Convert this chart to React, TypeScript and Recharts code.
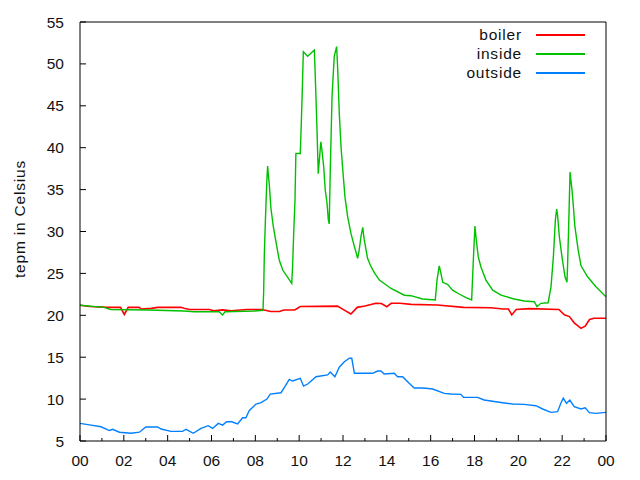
import { LineChart, Line, XAxis, YAxis, Legend } from "recharts";

const FONT = "'Liberation Sans', Arial, sans-serif";
const FONT_SIZE = 15.5;
const WORD_SPACING = 0.8; // gd renders words a little looser than the browser

const COLORS: Record<string, string> = {
  boiler: "#ff0000",
  inside: "#00c000",
  outside: "#0080ff",
};

// hours of the day, labelled every 2h, minor tick every hour
const hourTicks = Array.from({ length: 25 }, (_, i) => i);
const tempTicks = [5, 10, 15, 20, 25, 30, 35, 40, 45, 50, 55];

const boilerHours = [
  0, 0.45, 1.25, 1.85, 2.02, 2.2, 2.7, 2.8, 3.25, 3.55,
  4.6, 4.75, 5.0, 5.9, 6.1, 6.5, 6.9, 7.6, 8.3, 8.7,
  9.1, 9.3, 9.8, 10.05, 11.75, 12.0, 12.36, 12.65, 13.0, 13.5,
  13.75, 14.0, 14.2, 14.6, 15.1, 16.3, 17.5, 18.75, 19.3, 19.55,
  19.7, 19.9, 20.5, 21.85, 22.1, 22.33, 22.55, 22.86, 23.05, 23.25,
  23.45, 24,
];
const boilerTemps = [
  21.2, 21.05, 20.95, 20.95, 20.1, 20.95, 20.95, 20.75, 20.83, 20.95,
  20.95, 20.85, 20.7, 20.7, 20.55, 20.65, 20.55, 20.7, 20.7, 20.45,
  20.45, 20.63, 20.63, 21.05, 21.1, 20.7, 20.15, 20.95, 21.1, 21.43,
  21.4, 21.03, 21.43, 21.43, 21.3, 21.23, 20.95, 20.9, 20.75, 20.75,
  20.05, 20.7, 20.8, 20.7, 20.05, 19.85, 19.1, 18.45, 18.7, 19.5,
  19.65, 19.65,
];

const insideHours = [
  0, 1.1, 1.4, 3.1, 4.75, 5.2, 6.35, 6.5, 6.62, 7.95,
  8.35, 8.38, 8.41, 8.46, 8.52, 8.56, 8.59, 8.64, 8.71, 8.82,
  8.94, 9.09, 9.25, 9.66, 9.7, 9.75, 9.81, 9.85, 10.05, 10.08,
  10.13, 10.19, 10.39, 10.69, 10.72, 10.81, 10.87, 10.92, 10.99, 11.04,
  11.12, 11.19, 11.27, 11.33, 11.37, 11.42, 11.5, 11.6, 11.71, 11.76,
  11.83, 11.91, 11.98, 12.09, 12.21, 12.36, 12.52, 12.67, 12.74, 12.82,
  12.9, 12.97, 13.12, 13.28, 13.45, 13.66, 14.19, 14.8, 15.1, 15.63,
  16.21, 16.29, 16.39, 16.47, 16.55, 16.77, 17.0, 17.3, 17.61, 17.87,
  17.94, 18.02, 18.07, 18.17, 18.29, 18.52, 18.83, 19.21, 19.81, 20.27,
  20.73, 20.85, 21.03, 21.36, 21.49, 21.6, 21.69, 21.75, 21.79, 21.87,
  21.99, 22.13, 22.22, 22.25, 22.3, 22.36, 22.4, 22.45, 22.5, 22.58,
  22.73, 22.86, 23.16, 23.54, 24,
];
const insideTemps = [
  21.2, 20.95, 20.7, 20.63, 20.51, 20.43, 20.43, 20.04, 20.43, 20.51,
  20.6, 22.8, 27.2, 31.4, 35.75, 37.8, 36.9, 35.5, 32.8, 30.6,
  28.8, 26.6, 25.4, 23.8, 25.8, 29.8, 33.8, 39.3, 39.3, 41.5,
  45.7, 51.45, 50.9, 51.66, 49.67, 42.5, 36.9, 38.5, 40.7, 39.7,
  37.7, 34.95, 33.4, 31.4, 30.9, 37.3, 46.1, 50.9, 52.06, 49.27,
  44.1, 40.1, 37.7, 34.1, 31.8, 29.8, 28.2, 26.8, 27.8, 29.4,
  30.5, 29.0, 26.8, 25.8, 25.0, 24.2, 23.2, 22.4, 22.34, 21.95,
  21.83, 24.2, 25.9, 25.0, 23.94, 23.7, 23.0, 22.54, 22.1, 21.83,
  26.2, 30.66, 29.3, 27.0, 25.8, 24.2, 23.0, 22.4, 21.95, 21.7,
  21.62, 21.03, 21.43, 21.5, 23.4, 27.0, 31.4, 32.66, 31.97, 29.4,
  27.0, 24.6, 23.94, 26.2, 31.0, 37.1, 36.1, 34.95, 33.4, 30.6,
  27.8, 25.9, 24.6, 23.4, 22.2,
];

const outsideHours = [
  0, 0.5, 0.96, 1.34, 1.49, 1.8, 2.33, 2.71, 3.0, 3.54,
  3.7, 4.15, 4.68, 4.84, 5.17, 5.52, 5.85, 6.05, 6.31, 6.51,
  6.69, 6.92, 7.19, 7.42, 7.57, 7.72, 8.03, 8.26, 8.53, 8.68,
  9.17, 9.35, 9.55, 9.7, 10.05, 10.2, 10.39, 10.77, 11.3, 11.42,
  11.63, 11.83, 12.06, 12.29, 12.4, 12.52, 13.35, 13.58, 13.73, 13.88,
  14.34, 14.49, 14.72, 15.02, 15.25, 15.55, 15.78, 16.09, 16.62, 16.93,
  17.38, 17.5, 18.14, 18.44, 18.75, 19.21, 19.74, 20.27, 20.8, 21.11,
  21.49, 21.79, 21.94, 22.05, 22.2, 22.35, 22.55, 22.86, 23.05, 23.24,
  23.54, 24,
];
const outsideTemps = [
  7.1, 6.9, 6.7, 6.25, 6.4, 6.05, 5.92, 6.05, 6.67, 6.67,
  6.43, 6.15, 6.15, 6.4, 5.92, 6.5, 6.83, 6.5, 7.1, 6.9,
  7.3, 7.3, 7.03, 7.78, 7.78, 8.62, 9.41, 9.57, 10.0, 10.6,
  10.76, 11.48, 12.36, 12.16, 12.48, 11.56, 11.8, 12.67, 12.88, 13.23,
  12.67, 13.8, 14.46, 14.87, 14.87, 13.08, 13.08, 13.35, 13.35, 13.0,
  13.08, 12.67, 12.67, 11.88, 11.32, 11.32, 11.29, 11.2, 10.68, 10.61,
  10.57, 10.21, 10.21, 9.89, 9.77, 9.6, 9.41, 9.37, 9.21, 8.82,
  8.42, 8.5, 9.5, 10.1, 9.5, 9.89, 9.1, 8.82, 8.97, 8.38,
  8.3, 8.42,
];

const toPoints = (hours: number[], temps: number[]) =>
  hours.map((t, i) => ({ t, v: temps[i] }));

const boilerData = toPoints(boilerHours, boilerTemps);
const insideData = toPoints(insideHours, insideTemps);
const outsideData = toPoints(outsideHours, outsideTemps);

const hourLabel = (h: number) => String(h % 24).padStart(2, "0");

// gnuplot style: ticks point into the plot, minor x ticks every odd hour
const BottomTick = ({ x, y, payload }: any) => {
  const major = payload.value % 2 === 0;
  return (
    <g>
      <line x1={x} y1={y} x2={x} y2={y - (major ? 6 : 3)} stroke="#000" />
      {major && (
        <text x={x} y={y + 25} textAnchor="middle" fill="#111" fontFamily={FONT} fontSize={FONT_SIZE}>
          {hourLabel(payload.value)}
        </text>
      )}
    </g>
  );
};

const TopTick = ({ x, y, payload }: any) => {
  const major = payload.value % 2 === 0;
  return <line x1={x} y1={y} x2={x} y2={y + (major ? 6 : 3)} stroke="#000" />;
};

const LeftTick = ({ x, y, payload }: any) => (
  <g>
    <line x1={x} y1={y} x2={x + 6} y2={y} stroke="#000" />
    <text x={x - 16} y={y} dy="0.36em" textAnchor="end" fill="#111" fontFamily={FONT} fontSize={FONT_SIZE}>
      {payload.value}
    </text>
  </g>
);

const RightTick = ({ x, y }: any) => <line x1={x} y1={y} x2={x - 6} y2={y} stroke="#000" />;

const renderLegend = ({ payload }: any) => (
  <div style={{ fontFamily: FONT, fontSize: FONT_SIZE, color: "#111", letterSpacing: WORD_SPACING }}>
    {(payload || []).map((p: any) => (
      <div
        key={p.value}
        style={{ display: "flex", alignItems: "center", justifyContent: "flex-end", height: 19 }}
      >
        <span>{p.value}</span>
        <span
          style={{
            display: "inline-block",
            width: 49,
            height: 1.5,
            marginLeft: 14,
            background: COLORS[p.value] ?? p.color,
          }}
        />
      </div>
    ))}
  </div>
);

const YLabel = () => {
  const cx = 25;
  const cy = 219;
  return (
    <text
      x={cx}
      y={cy}
      transform={`rotate(-90 ${cx} ${cy})`}
      textAnchor="middle"
      fill="#111"
      fontFamily={FONT}
      fontSize={FONT_SIZE}
      letterSpacing={WORD_SPACING}
    >
      tepm in Celsius
    </text>
  );
};

export default function App() {
  return (
    <div style={{ position: "absolute", left: 0, top: 0, background: "#fff" }}>
      <LineChart width={640} height={480} margin={{ top: 21, right: 33, bottom: 0, left: 0 }}>
        <XAxis
          dataKey="t"
          type="number"
          domain={[0, 24]}
          ticks={hourTicks}
          interval={0}
          height={39}
          tickSize={0}
          tickMargin={0}
          tickLine={false}
          tick={<BottomTick />}
          axisLine={{ stroke: "#000" }}
          allowDataOverflow
        />
        <XAxis
          xAxisId="top"
          orientation="top"
          type="number"
          domain={[0, 24]}
          ticks={hourTicks}
          interval={0}
          height={1}
          tickSize={0}
          tickMargin={0}
          tickLine={false}
          tick={<TopTick />}
          axisLine={{ stroke: "#000" }}
        />
        <YAxis
          type="number"
          domain={[5, 55]}
          ticks={tempTicks}
          interval={0}
          width={80}
          tickSize={0}
          tickMargin={0}
          tickLine={false}
          tick={<LeftTick />}
          axisLine={{ stroke: "#000" }}
          label={<YLabel />}
          allowDataOverflow
        />
        <YAxis
          yAxisId="right"
          orientation="right"
          type="number"
          domain={[5, 55]}
          ticks={tempTicks}
          interval={0}
          width={1}
          tickSize={0}
          tickMargin={0}
          tickLine={false}
          tick={<RightTick />}
          axisLine={{ stroke: "#000" }}
        />
        <Legend
          layout="vertical"
          align="center"
          verticalAlign="middle"
          content={renderLegend}
          wrapperStyle={{ top: 25.5, right: 55, left: "auto", width: "auto" }}
        />
        <Line
          data={boilerData}
          dataKey="v"
          name="boiler"
          type="linear"
          stroke={COLORS.boiler}
          strokeWidth={1.6}
          dot={false}
          isAnimationActive={false}
        />
        <Line
          data={insideData}
          dataKey="v"
          name="inside"
          type="linear"
          stroke={COLORS.inside}
          strokeWidth={1.4}
          dot={false}
          isAnimationActive={false}
        />
        <Line
          data={outsideData}
          dataKey="v"
          name="outside"
          type="linear"
          stroke={COLORS.outside}
          strokeWidth={1.4}
          dot={false}
          isAnimationActive={false}
        />
      </LineChart>
    </div>
  );
}
